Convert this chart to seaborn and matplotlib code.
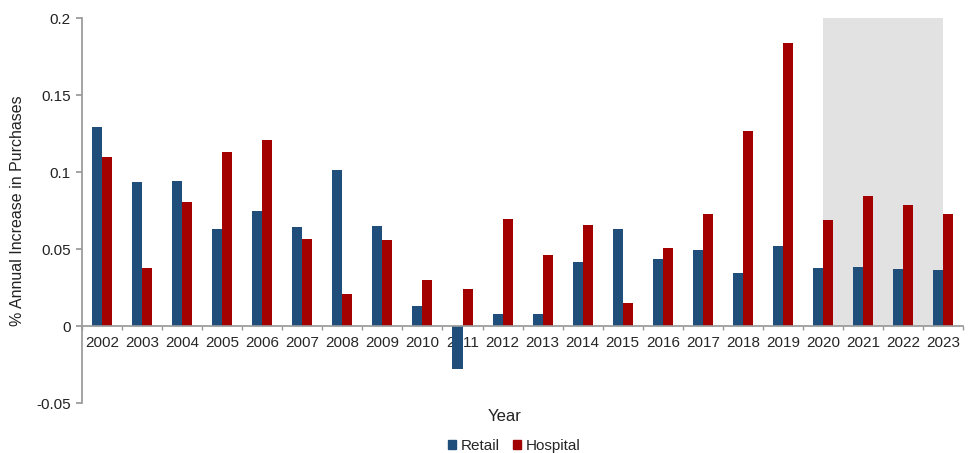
import numpy as np
import pandas as pd
import matplotlib
matplotlib.use('Agg')
import matplotlib.pyplot as plt
import seaborn as sns

years = [str(y) for y in range(2002, 2024)]
retail = [0.129, 0.0933, 0.0942, 0.0633, 0.075, 0.0642, 0.1016, 0.0648, 0.0134, -0.028, 0.008,
          0.008, 0.0417, 0.0631, 0.0437, 0.0493, 0.0346, 0.0523, 0.0376, 0.0385, 0.037, 0.0366]
hospital = [0.1098, 0.0376, 0.0806, 0.113, 0.121, 0.0568, 0.0207, 0.0557, 0.0298, 0.0244, 0.0696,
            0.0463, 0.0657, 0.0152, 0.0506, 0.073, 0.1264, 0.184, 0.0692, 0.0845, 0.0785, 0.0726]
series_names = ['Retail', 'Hospital']
y_ticks = [-0.05, 0, 0.05, 0.1, 0.15, 0.2]
y_tick_labels = ['-0.05', '0', '0.05', '0.1', '0.15', '0.2']

df = pd.DataFrame({
    'Year': years * 2,
    'Series': ['Retail'] * len(years) + ['Hospital'] * len(years),
    'Value': retail + hospital,
})

sns.set_theme(style='white')
plt.rcParams['font.family'] = ['Liberation Sans', 'DejaVu Sans']

BLUE = '#1f4e7a'
RED = '#a30000'

fig = plt.figure(figsize=(9.7, 4.53), dpi=100)
ax = fig.add_axes([0.0845, 0.11, 0.9085, 0.85])

# shaded forecast window (2020-2023)
ax.axvspan(18, 21, ymin=0.2, ymax=1.0, color='#e2e2e2', zorder=0, lw=0)

sns.barplot(data=df, x='Year', y='Value', hue='Series', hue_order=series_names,
            palette={'Retail': BLUE, 'Hospital': RED}, saturation=1, linewidth=0,
            width=0.5, gap=0, ax=ax, zorder=2, legend=False, errorbar=None)

ax.set_xlim(-0.5, 21.5)
ax.set_ylim(-0.05, 0.2)
ax.set_yticks(y_ticks)
ax.set_yticklabels(y_tick_labels, fontsize=11, color='#222222')
ax.set_xticks(range(len(years)))
ax.set_xticklabels(years, fontsize=11, color='#222222')
ax.set_xticks(np.arange(-0.5, 22, 1), minor=True)
ax.tick_params(axis='x', which='major', length=0, pad=7)
ax.tick_params(axis='x', which='minor', length=3, color='#999999', direction='out', bottom=True)
ax.tick_params(axis='y', length=4, color='#999999', direction='out', left=True, pad=4)

for s in ['top', 'right']:
    ax.spines[s].set_visible(False)
ax.spines['bottom'].set_position(('data', 0))
ax.spines['bottom'].set_color('#999999')
ax.spines['left'].set_color('#999999')
ax.spines['bottom'].set_zorder(3)

ax.set_ylabel('% Annual Increase in Purchases', fontsize=11.5, color='#222222', labelpad=8)
ax.set_xlabel('Year', fontsize=12, color='#222222')
ax.xaxis.set_label_coords(0.48, -0.015)

handles = [plt.Rectangle((0, 0), 1, 1, color=BLUE), plt.Rectangle((0, 0), 1, 1, color=RED)]
fig.legend(handles, series_names, loc='lower center', bbox_to_anchor=(0.53, -0.03), ncol=2,
           frameon=False, fontsize=11, handlelength=0.5, handleheight=0.5, handletextpad=0.3,
           columnspacing=0.9)

fig.savefig('out.png', dpi=100)
